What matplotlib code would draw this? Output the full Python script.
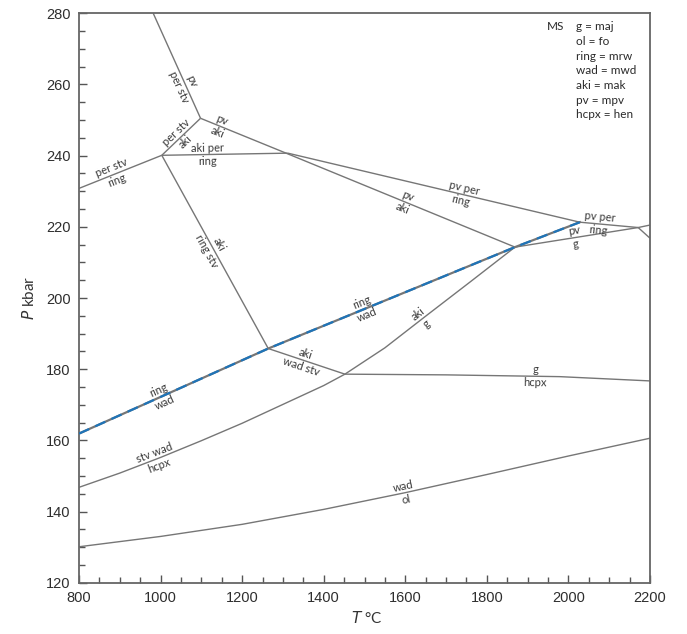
import numpy as np
import matplotlib
matplotlib.use("Agg")
import matplotlib.pyplot as plt
from matplotlib.ticker import MultipleLocator

# ---------------- data (T in degC, P in kbar) ----------------
T_top = [982, 1098];              P_top = [280.0, 250.5]          # pv / per stv
T_AB = [1003, 1098];              P_AB = [240.1, 250.5]           # per stv / aki
T_left = [800, 1003];             P_left = [230.8, 240.1]         # per stv / ring
T_BD = [1003, 1312];              P_BD = [240.1, 240.7]           # aki per / ring
T_AE = [1098, 1312, 1869];        P_AE = [250.5, 240.5, 214.3]    # pv / aki
T_DC = [1312, 2028];              P_DC = [240.7, 221.3]           # pv per / ring
T_EF = [1869, 2171, 2200];        P_EF = [214.3, 219.8, 220.5]    # pv / g
T_CF = [2028, 2171];              P_CF = [221.3, 219.8]           # pv per / ring
T_Fd = [2171, 2200];              P_Fd = [219.8, 216.8]
T_BG = [1003, 1264];              P_BG = [240.1, 185.8]           # aki / ring stv
T_rw = [800, 1264, 1869, 2028];   P_rw = [161.9, 185.8, 214.3, 221.3]  # ring / wad
T_GH = [1264, 1452];              P_GH = [185.8, 178.6]           # aki / wad stv
T_hg = [800, 900, 1000, 1100, 1200, 1300, 1400, 1452, 1550, 1650, 1760, 1869]
P_hg = [146.8, 150.8, 155.2, 159.9, 164.8, 170.1, 175.4, 178.6, 186.0, 194.9, 204.6, 214.3]
T_gh = [1452, 1700, 1979, 2200];  P_gh = [178.6, 178.4, 177.9, 176.7]   # g / hcpx
T_wo = [800, 1000, 1200, 1400, 1600, 1800, 2000, 2200]
P_wo = [130.1, 133.0, 136.4, 140.6, 145.3, 150.4, 155.6, 160.6]   # wad / ol

legend_keys = ["g", "ol", "ring", "wad", "aki", "pv", "hcpx"]
legend_vals = ["maj", "fo", "mrw", "mwd", "mak", "mpv", "hen"]

x_ticks = [800, 1000, 1200, 1400, 1600, 1800, 2000, 2200]
y_ticks = [120, 140, 160, 180, 200, 220, 240, 260, 280]

# ---------------- figure ----------------
W, H = 687, 634
fig = plt.figure(figsize=(W / 100, H / 100), dpi=100)
ax = fig.add_axes([79 / W, 1 - 582.7 / H, (650 - 79) / W, (582.7 - 13.3) / H])
ax.set_xlim(800, 2200)
ax.set_ylim(120, 280)

LC = "#767676"
LW = 1.0
lines = [(T_top, P_top), (T_AB, P_AB), (T_left, P_left), (T_BD, P_BD), (T_AE, P_AE),
         (T_DC, P_DC), (T_EF, P_EF), (T_CF, P_CF), (T_Fd, P_Fd), (T_BG, P_BG),
         (T_GH, P_GH), (T_hg, P_hg), (T_gh, P_gh), (T_wo, P_wo)]
for t, p in lines:
    ax.plot(t, p, color=LC, lw=LW, solid_capstyle="butt", solid_joinstyle="round")
ax.plot(T_rw, P_rw, color=LC, lw=1.6, zorder=3)
ax.plot(T_rw, P_rw, color="#1f74b8", lw=1.6, dashes=(5, 3), zorder=4)

# ---------------- labels along lines ----------------
LBL_FONT = dict(family="Lato", size=8, color="#383838")


def label(t, p, at, above, below, off=6.8):
    t = np.asarray(t, float)
    p = np.asarray(p, float)
    y = np.interp(at, t, p)
    dt = 3.0
    a = ax.transData.transform((at - dt, np.interp(at - dt, t, p)))
    b = ax.transData.transform((at + dt, np.interp(at + dt, t, p)))
    ang = np.degrees(np.arctan2(b[1] - a[1], b[0] - a[0]))
    nx, ny = -np.sin(np.radians(ang)), np.cos(np.radians(ang))
    for txt, s in ((above, 1), (below, -1)):
        if txt:
            ax.annotate(txt, (at, y), xytext=(s * off * nx, s * off * ny),
                        textcoords="offset pixels", ha="center", va="center",
                        rotation=ang, rotation_mode="anchor", **LBL_FONT)


label(T_top, P_top, 1060, "pv", "per stv")
label(T_AB, P_AB, 1050, "per stv", "aki")
label(T_BD, P_BD, 1114, "aki per", "ring")
label(T_left, P_left, 887, "per stv", "ring")
label(T_AE, P_AE, 1145, "pv", "aki")
label(T_AE, P_AE, 1600, "pv", "aki")
label(T_DC, P_DC, 1740, "pv per", "ring")
label(T_CF, P_CF, 2075, "pv per", "ring")
label(T_EF, P_EF, 2016, "pv", "g")
label(T_BG, P_BG, 1128, "aki", "ring stv")
label(T_rw, P_rw, 1003, "ring", "wad")
label(T_rw, P_rw, 1500, "ring", "wad")
label(T_GH, P_GH, 1349, "aki", "wad stv")
label(T_hg, P_hg, 991, "stv wad", "hcpx")
label(T_hg, P_hg, 1641, "aki", "g")
label(T_gh, P_gh, 1918, "g", "hcpx")
label(T_wo, P_wo, 1599, "wad", "ol")

# ---------------- legend text block ----------------
LEG_FONT = dict(family="Lato", size=8.5, color="#2a2a2a")
fig.text(546.5 / W, 1 - 26.7 / H, "MS", ha="left", va="center", **LEG_FONT)
for i, (k, v) in enumerate(zip(legend_keys, legend_vals)):
    fig.text(576.5 / W, 1 - (26.7 + 14.7 * i) / H, f"{k} = {v}", ha="left", va="center", **LEG_FONT)

# ---------------- axes styling ----------------
for s in ax.spines.values():
    s.set_color("#666666")
    s.set_linewidth(1.3)
ax.set_xticks(x_ticks)
ax.set_yticks(y_ticks)
ax.xaxis.set_minor_locator(MultipleLocator(50))
ax.yaxis.set_minor_locator(MultipleLocator(5))
ax.tick_params(which="both", direction="in", color="#555555", top=False, right=False,
               labelsize=10.5, labelcolor="#2e2e2e", width=1.0)
ax.tick_params(which="major", length=6, pad=6)
ax.tick_params(which="minor", length=4)
for lab in ax.get_xticklabels() + ax.get_yticklabels():
    lab.set_family("Liberation Sans")

fig.text(367 / W, 1 - 618 / H, r"$\it{T}$ °C", ha="center", va="center",
         family="Lato", size=11, color="#333333")
fig.text(29 / W, 1 - 298 / H, r"$\it{P}$ kbar", ha="center", va="center", rotation=90,
         family="Lato", size=11, color="#333333")

fig.savefig("out.png", dpi=100)
